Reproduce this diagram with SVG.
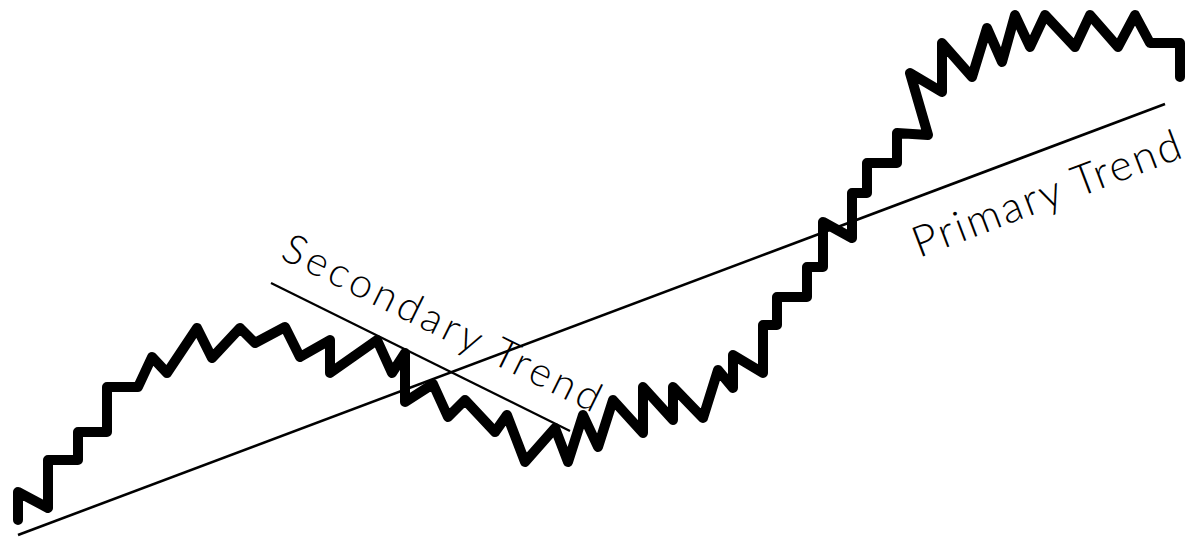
<svg xmlns="http://www.w3.org/2000/svg" width="1188" height="537" viewBox="0 0 1188 537">
<style>
.price{fill:none;stroke:#000;stroke-width:10;stroke-linejoin:round;stroke-linecap:round}
.trend{fill:none;stroke:#000;stroke-linecap:butt}
.lbl{font-family:"Lato","Open Sans","Liberation Sans",sans-serif;font-weight:300;fill:#000}
</style>
<rect width="1188" height="537" fill="#fff"/>
<g id="connectors">
<line id="primary-line" class="trend" stroke-width="2.6" x1="18" y1="535" x2="1165" y2="104"/>
<line id="secondary-line" class="trend" stroke-width="2.2" x1="271" y1="283" x2="570" y2="431"/>
</g>
<g id="price">
<polyline class="price" points="18,520 18,492 48,508 48,460 78,460 78,432 107,432 107,387 138,387 152,357 167,373 197,328 212,358 240,328 255,343 285,327 300,357 330,340 330,373 377,340 392,373 405,353 405,402 433,384 448,417 465,400 495,432 507,415 525,462 555,428 568,462 583,415 598,447 613,400 643,433 643,387 673,420 673,387 703,418 718,370 733,388 733,355 763,373 763,325 777,325 777,297 807,297 807,267 823,267 823,222 852,238 852,193 867,193 867,163 897,163 897,133 928,135 910,73 942,92 942,43 972,77 987,28 1002,62 1015,15 1030,47 1045,15 1075,47 1090,15 1118,47 1135,15 1150,43 1180,43 1180,77"/>
</g>
<g id="label-secondary">
<text class="lbl" font-size="41" transform="translate(279,258) rotate(26.3)" textLength="350" lengthAdjust="spacing">Secondary Trend</text>
</g>
<g id="label-primary">
<text class="lbl" font-size="43" transform="translate(919,258) rotate(-20.8)" textLength="284" lengthAdjust="spacing">Primary Trend</text>
</g>
</svg>
